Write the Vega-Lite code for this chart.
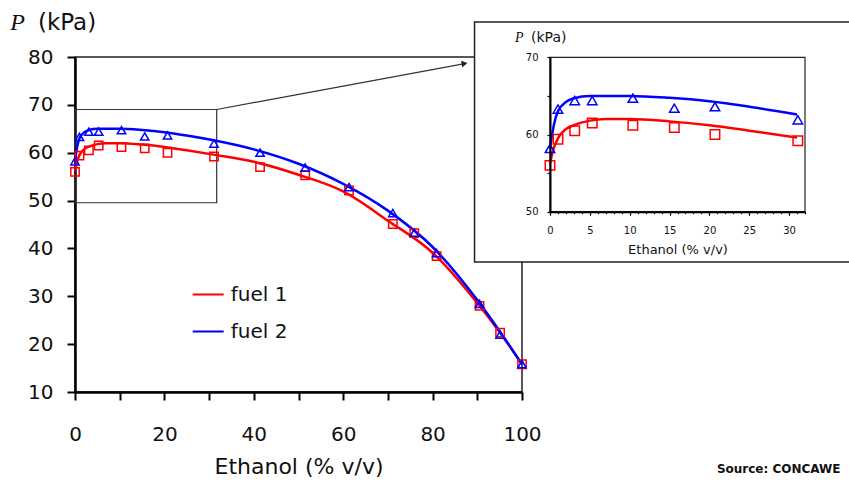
{
  "$schema": "https://vega.github.io/schema/vega-lite/v6.json",
  "autosize": {"type": "none"},
  "width": 447,
  "height": 335,
  "padding": {"left": 75, "top": 57, "right": 327, "bottom": 96},
  "background": "white",
  "config": {
    "font": "DejaVu Sans",
    "view": {"stroke": "#222", "strokeWidth": 1.5},
    "axis": {"grid": false, "labelFlush": false, "labelBound": false, "labelOverlap": false, "domainColor": "#000", "tickColor": "#000", "labelColor": "#111", "titleColor": "#111", "titleFontWeight": "normal", "labelFont": "DejaVu Sans", "titleFont": "DejaVu Sans"}
  },
  "datasets": {
    "curves": [
      {"fuel": "fuel 1", "x": 0, "y": 56.3}, {"fuel": "fuel 1", "x": 0.5, "y": 58.3}, {"fuel": "fuel 1", "x": 1, "y": 59.5}, {"fuel": "fuel 1", "x": 2, "y": 60.7}, {"fuel": "fuel 1", "x": 3, "y": 61.2}, {"fuel": "fuel 1", "x": 5, "y": 61.8}, {"fuel": "fuel 1", "x": 7, "y": 62.0}, {"fuel": "fuel 1", "x": 10, "y": 62.0}, {"fuel": "fuel 1", "x": 15, "y": 61.7}, {"fuel": "fuel 1", "x": 20, "y": 61.2}, {"fuel": "fuel 1", "x": 25, "y": 60.5}, {"fuel": "fuel 1", "x": 31, "y": 59.6}, {"fuel": "fuel 1", "x": 40, "y": 58.1}, {"fuel": "fuel 1", "x": 50, "y": 55.4}, {"fuel": "fuel 1", "x": 60, "y": 51.9}, {"fuel": "fuel 1", "x": 70, "y": 45.8}, {"fuel": "fuel 1", "x": 80, "y": 39.1}, {"fuel": "fuel 1", "x": 90, "y": 28.6}, {"fuel": "fuel 1", "x": 95, "y": 22.5}, {"fuel": "fuel 1", "x": 100, "y": 15.8},
      {"fuel": "fuel 2", "x": 0, "y": 58.2}, {"fuel": "fuel 2", "x": 0.5, "y": 61.3}, {"fuel": "fuel 2", "x": 1, "y": 63.0}, {"fuel": "fuel 2", "x": 2, "y": 64.2}, {"fuel": "fuel 2", "x": 3, "y": 64.7}, {"fuel": "fuel 2", "x": 5, "y": 65.0}, {"fuel": "fuel 2", "x": 10, "y": 65.0}, {"fuel": "fuel 2", "x": 15, "y": 64.75}, {"fuel": "fuel 2", "x": 20, "y": 64.3}, {"fuel": "fuel 2", "x": 25, "y": 63.6}, {"fuel": "fuel 2", "x": 31, "y": 62.6}, {"fuel": "fuel 2", "x": 40, "y": 60.7}, {"fuel": "fuel 2", "x": 50, "y": 57.7}, {"fuel": "fuel 2", "x": 60, "y": 53.5}, {"fuel": "fuel 2", "x": 70, "y": 47.9}, {"fuel": "fuel 2", "x": 80, "y": 40.3}, {"fuel": "fuel 2", "x": 90, "y": 29.2}, {"fuel": "fuel 2", "x": 95, "y": 22.7}, {"fuel": "fuel 2", "x": 100, "y": 15.8}
    ],
    "points": [
      {"fuel": "fuel 1", "x": 0, "y": 56.0}, {"fuel": "fuel 1", "x": 1.0, "y": 59.4}, {"fuel": "fuel 1", "x": 3.1, "y": 60.5}, {"fuel": "fuel 1", "x": 5.3, "y": 61.5}, {"fuel": "fuel 1", "x": 10.4, "y": 61.2}, {"fuel": "fuel 1", "x": 15.6, "y": 60.9}, {"fuel": "fuel 1", "x": 20.7, "y": 60.0}, {"fuel": "fuel 1", "x": 31.1, "y": 59.2}, {"fuel": "fuel 1", "x": 41.4, "y": 57.0}, {"fuel": "fuel 1", "x": 51.5, "y": 55.3}, {"fuel": "fuel 1", "x": 61.3, "y": 52.1}, {"fuel": "fuel 1", "x": 71.1, "y": 45.1}, {"fuel": "fuel 1", "x": 75.9, "y": 43.2}, {"fuel": "fuel 1", "x": 80.9, "y": 38.4}, {"fuel": "fuel 1", "x": 90.5, "y": 28.0}, {"fuel": "fuel 1", "x": 95.1, "y": 22.4}, {"fuel": "fuel 1", "x": 100, "y": 15.8},
      {"fuel": "fuel 2", "x": 0, "y": 58.2}, {"fuel": "fuel 2", "x": 1.0, "y": 63.3}, {"fuel": "fuel 2", "x": 3.1, "y": 64.4}, {"fuel": "fuel 2", "x": 5.3, "y": 64.4}, {"fuel": "fuel 2", "x": 10.4, "y": 64.7}, {"fuel": "fuel 2", "x": 15.6, "y": 63.4}, {"fuel": "fuel 2", "x": 20.7, "y": 63.6}, {"fuel": "fuel 2", "x": 31.1, "y": 61.9}, {"fuel": "fuel 2", "x": 41.4, "y": 60.0}, {"fuel": "fuel 2", "x": 51.5, "y": 56.9}, {"fuel": "fuel 2", "x": 61.3, "y": 52.8}, {"fuel": "fuel 2", "x": 71.1, "y": 47.4}, {"fuel": "fuel 2", "x": 75.9, "y": 43.3}, {"fuel": "fuel 2", "x": 80.9, "y": 39.0}, {"fuel": "fuel 2", "x": 90.5, "y": 28.4}, {"fuel": "fuel 2", "x": 95.1, "y": 22.0}, {"fuel": "fuel 2", "x": 100, "y": 15.8}
    ]
  },
  "layer": [
    {
      "layer": [
        {
          "data": {"values": [{}]},
          "mark": {"type": "rect", "fill": "white", "fillOpacity": 0, "stroke": "#333", "strokeWidth": 1.2},
          "encoding": {
            "x": {"datum": 0, "type": "quantitative", "scale": {"domain": [0, 100], "nice": false, "zero": false}},
            "x2": {"datum": 31.7},
            "y": {"datum": 69.03, "type": "quantitative", "scale": {"domain": [10, 80], "nice": false, "zero": false}},
            "y2": {"datum": 49.54}
          }
        },
        {
          "data": {"values": [{}]},
          "mark": {"type": "rule", "stroke": "#333", "strokeWidth": 1.2},
          "encoding": {
            "x": {"datum": 31.7, "type": "quantitative", "scale": {"domain": [0, 100], "nice": false, "zero": false}},
            "x2": {"datum": 86.6},
            "y": {"datum": 69.03, "type": "quantitative", "scale": {"domain": [10, 80], "nice": false, "zero": false}},
            "y2": {"datum": 78.52}
          }
        },
        {
          "data": {"values": [{}]},
          "mark": {"type": "point", "shape": "triangle-right", "filled": true, "color": "#222", "size": 45, "angle": 349.5, "opacity": 1},
          "encoding": {
            "x": {"datum": 87.14, "type": "quantitative", "scale": {"domain": [0, 100], "nice": false, "zero": false}},
            "y": {"datum": 78.62, "type": "quantitative", "scale": {"domain": [10, 80], "nice": false, "zero": false}}
          }
        },
        {
          "data": {"name": "curves"},
          "mark": {"type": "line", "interpolate": "monotone", "strokeWidth": 2.5},
          "encoding": {
            "x": {"field": "x", "type": "quantitative", "scale": {"domain": [0, 100], "nice": false, "zero": false},
              "axis": {"orient": "bottom", "values": [0, 10, 20, 30, 40, 50, 60, 70, 80, 90, 100], "labelExpr": "datum.value % 20 === 0 ? datum.label : ''", "labelOverlap": false, "domainWidth": 2.5, "tickWidth": 2, "tickSize": 8, "labelFontSize": 20, "labelPadding": 24, "title": "Ethanol (% v/v)", "titleFontSize": 22, "titlePadding": 12}},
            "y": {"field": "y", "type": "quantitative", "scale": {"domain": [10, 80], "nice": false, "zero": false},
              "axis": {"orient": "left", "values": [10, 15, 20, 25, 30, 35, 40, 45, 50, 55, 60, 65, 70, 75, 80], "labelExpr": "datum.value % 10 === 0 ? datum.label : ''", "labelOverlap": false, "domainWidth": 2.5, "tickWidth": 2, "tickSize": 8, "labelFontSize": 20, "labelPadding": 14, "title": null}},
            "color": {"field": "fuel", "type": "nominal", "scale": {"domain": ["fuel 1", "fuel 2"], "range": ["#ff0000", "#0000ff"]},
              "legend": {"title": null, "orient": "none", "legendX": 116.7, "legendY": 221, "symbolType": "stroke", "symbolSize": 961, "symbolStrokeWidth": 2, "labelFontSize": 20, "labelColor": "#111", "labelFont": "DejaVu Sans", "labelOffset": 6, "rowPadding": 10, "padding": 0}}
          }
        },
        {
          "data": {"name": "points"},
          "transform": [{"filter": "datum.fuel === 'fuel 1'"}],
          "mark": {"type": "point", "shape": "square", "filled": false, "color": "#ff0000", "strokeWidth": 1.5, "size": 70, "opacity": 1},
          "encoding": {
            "x": {"field": "x", "type": "quantitative", "scale": {"domain": [0, 100], "nice": false, "zero": false}},
            "y": {"field": "y", "type": "quantitative", "scale": {"domain": [10, 80], "nice": false, "zero": false}}
          }
        },
        {
          "data": {"name": "points"},
          "transform": [{"filter": "datum.fuel === 'fuel 2'"}],
          "mark": {"type": "point", "shape": "triangle-up", "filled": false, "color": "#0000ff", "strokeWidth": 1.5, "size": 70, "opacity": 1},
          "encoding": {
            "x": {"field": "x", "type": "quantitative", "scale": {"domain": [0, 100], "nice": false, "zero": false}},
            "y": {"field": "y", "type": "quantitative", "scale": {"domain": [10, 80], "nice": false, "zero": false}}
          }
        },
        {
          "data": {"values": [{}]},
          "mark": {"type": "text", "text": "P", "font": "Liberation Serif", "fontStyle": "italic", "fontSize": 24, "align": "left", "baseline": "middle", "color": "#111"},
          "encoding": {
            "x": {"datum": -14.5, "type": "quantitative", "scale": {"domain": [0, 100], "nice": false, "zero": false}},
            "y": {"datum": 87.2, "type": "quantitative", "scale": {"domain": [10, 80], "nice": false, "zero": false}}
          }
        },
        {
          "data": {"values": [{}]},
          "mark": {"type": "text", "text": "(kPa)", "font": "DejaVu Sans", "fontSize": 23, "align": "left", "baseline": "middle", "color": "#111"},
          "encoding": {
            "x": {"datum": -8.28, "type": "quantitative", "scale": {"domain": [0, 100], "nice": false, "zero": false}},
            "y": {"datum": 87.2, "type": "quantitative", "scale": {"domain": [10, 80], "nice": false, "zero": false}}
          }
        },
        {
          "data": {"values": [{}]},
          "mark": {"type": "text", "text": "Source: CONCAWE", "font": "DejaVu Sans", "fontWeight": "bold", "fontSize": 12, "align": "left", "baseline": "middle", "color": "#111"},
          "encoding": {
            "x": {"datum": 143.6, "type": "quantitative", "scale": {"domain": [0, 100], "nice": false, "zero": false}},
            "y": {"datum": -6.04, "type": "quantitative", "scale": {"domain": [10, 80], "nice": false, "zero": false}}
          }
        }
      ]
    },
    {
      "layer": [
        {
          "data": {"values": [{}]},
          "mark": {"type": "rect", "fill": "white", "stroke": "#222", "strokeWidth": 1.5},
          "encoding": {
            "x": {"datum": -9.47, "type": "quantitative", "scale": {"domain": [0, 32], "range": [475, 730], "nice": false, "zero": false}},
            "x2": {"datum": 39},
            "y": {"datum": 74.57, "type": "quantitative", "scale": {"domain": [50, 70], "range": [154.7, 0.3], "nice": false, "zero": false}},
            "y2": {"datum": 43.48}
          }
        },
        {
          "data": {"values": [{}]},
          "mark": {"type": "rect", "fill": "white", "fillOpacity": 0, "stroke": "#222", "strokeWidth": 1.2},
          "encoding": {
            "x": {"datum": 0, "type": "quantitative", "scale": {"domain": [0, 32], "range": [475, 730], "nice": false, "zero": false}},
            "x2": {"datum": 32},
            "y": {"datum": 70, "type": "quantitative", "scale": {"domain": [50, 70], "range": [154.7, 0.3], "nice": false, "zero": false}},
            "y2": {"datum": 50}
          }
        },
        {
          "data": {"name": "curves"},
          "transform": [{"filter": "datum.x <= 32"}],
          "mark": {"type": "line", "interpolate": "monotone", "strokeWidth": 2.5},
          "encoding": {
            "x": {"field": "x", "type": "quantitative", "scale": {"domain": [0, 32], "range": [475, 730], "nice": false, "zero": false},
              "axis": {"orient": "bottom", "offset": -180.3, "zindex": 1, "values": [0, 5, 10, 15, 20, 25, 30], "labelOverlap": false, "domainWidth": 2, "tickWidth": 1.2, "tickSize": 3.5, "labelFontSize": 10, "labelPadding": 10.5, "title": "Ethanol (% v/v)", "titleFontSize": 13, "titlePadding": 8}},
            "y": {"field": "y", "type": "quantitative", "scale": {"domain": [50, 70], "range": [154.7, 0.3], "nice": false, "zero": false},
              "axis": {"orient": "left", "offset": -475, "zindex": 1, "values": [50, 55, 60, 65, 70], "labelExpr": "datum.value % 10 === 0 ? datum.label : ''", "labelOverlap": false, "domainWidth": 2, "tickWidth": 1.2, "tickSize": 3, "labelFontSize": 10, "labelPadding": 9, "title": null}},
            "color": {"field": "fuel", "type": "nominal"}
          }
        },
        {
          "data": {"name": "points"},
          "transform": [{"filter": "datum.x <= 32 && datum.fuel === 'fuel 1'"}],
          "mark": {"type": "point", "shape": "square", "filled": false, "color": "#ff0000", "strokeWidth": 1.5, "size": 90, "opacity": 1},
          "encoding": {
            "x": {"field": "x", "type": "quantitative", "scale": {"domain": [0, 32], "range": [475, 730], "nice": false, "zero": false}},
            "y": {"field": "y", "type": "quantitative", "scale": {"domain": [50, 70], "range": [154.7, 0.3], "nice": false, "zero": false}}
          }
        },
        {
          "data": {"name": "points"},
          "transform": [{"filter": "datum.x <= 32 && datum.fuel === 'fuel 2'"}],
          "mark": {"type": "point", "shape": "triangle-up", "filled": false, "color": "#0000ff", "strokeWidth": 1.5, "size": 90, "opacity": 1},
          "encoding": {
            "x": {"field": "x", "type": "quantitative", "scale": {"domain": [0, 32], "range": [475, 730], "nice": false, "zero": false}},
            "y": {"field": "y", "type": "quantitative", "scale": {"domain": [50, 70], "range": [154.7, 0.3], "nice": false, "zero": false}}
          }
        },
        {
          "data": {"values": [{}]},
          "mark": {"type": "text", "text": "P", "font": "Liberation Serif", "fontStyle": "italic", "fontSize": 14, "align": "left", "baseline": "middle", "color": "#111"},
          "encoding": {
            "x": {"datum": -4.39, "type": "quantitative", "scale": {"domain": [0, 32], "range": [475, 730], "nice": false, "zero": false}},
            "y": {"datum": 72.46, "type": "quantitative", "scale": {"domain": [50, 70], "range": [154.7, 0.3], "nice": false, "zero": false}}
          }
        },
        {
          "data": {"values": [{}]},
          "mark": {"type": "text", "text": "(kPa)", "font": "DejaVu Sans", "fontSize": 14, "align": "left", "baseline": "middle", "color": "#111"},
          "encoding": {
            "x": {"datum": -2.38, "type": "quantitative", "scale": {"domain": [0, 32], "range": [475, 730], "nice": false, "zero": false}},
            "y": {"datum": 72.46, "type": "quantitative", "scale": {"domain": [50, 70], "range": [154.7, 0.3], "nice": false, "zero": false}}
          }
        }
      ]
    },
    {
      "data": {"values": [{}]},
      "mark": {"type": "point", "opacity": 0},
      "encoding": {
        "x": {"datum": 0, "type": "quantitative", "scale": {"domain": [0, 32], "range": [475, 730], "nice": false, "zero": false},
          "axis": {"orient": "bottom", "offset": -180.3, "zindex": 1, "values": [1, 2, 3, 4, 6, 7, 8, 9, 11, 12, 13, 14, 16, 17, 18, 19, 21, 22, 23, 24, 26, 27, 28, 29, 31, 32], "labels": false, "domain": false, "tickWidth": 1.2, "tickSize": 2, "title": null}},
        "y": {"datum": 60, "type": "quantitative", "scale": {"domain": [50, 70], "range": [154.7, 0.3], "nice": false, "zero": false}, "axis": null}
      }
    }
  ],
  "resolve": {"scale": {"x": "independent", "y": "independent"}}
}
